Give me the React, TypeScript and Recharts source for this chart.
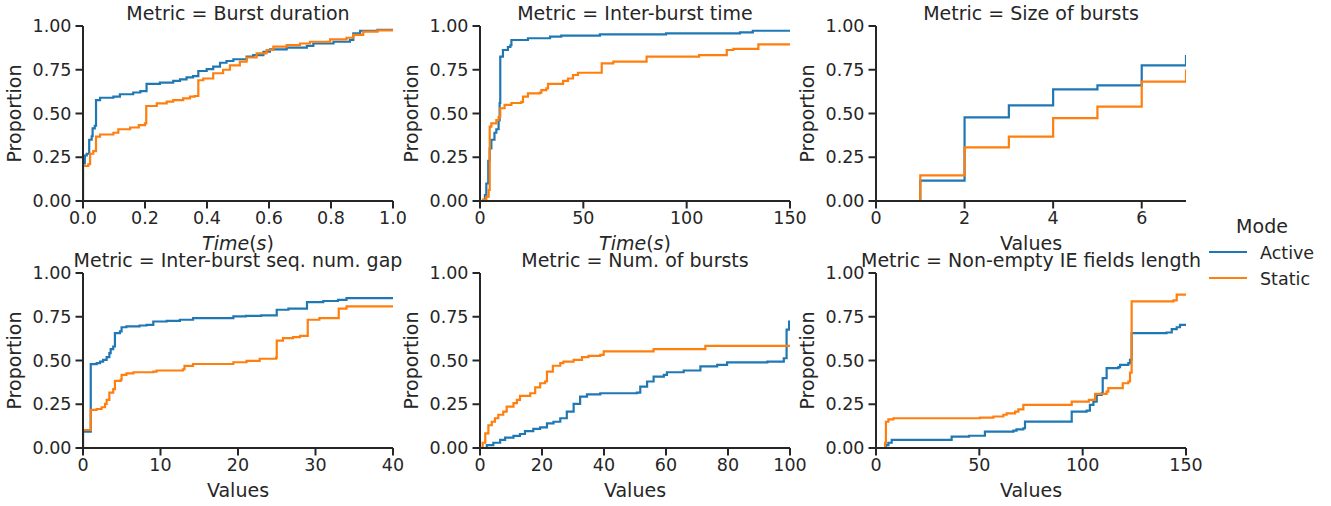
import React from 'react';
import { LineChart, Line, XAxis, YAxis } from 'recharts';

const BLUE = '#1f77b4';
const ORANGE = '#ff7f0e';
const INK = '#262626';
const FONT = 'DejaVu Sans, sans-serif';

type Pt = [number, number];

// Mode categories
const modes = ['Active', 'Static'];

// Metric = Burst duration (x in seconds)
const burstDurationActive: Pt[] = [
  [0, 0], [0, 0.215], [0.006, 0.26], [0.012, 0.27], [0.02, 0.35], [0.028, 0.37], [0.031, 0.415], [0.038, 0.43],
  [0.042, 0.577], [0.055, 0.59], [0.098, 0.596], [0.119, 0.61], [0.162, 0.62], [0.185, 0.628], [0.205, 0.669],
  [0.248, 0.676], [0.291, 0.686], [0.313, 0.695], [0.334, 0.707], [0.355, 0.714], [0.372, 0.743], [0.399, 0.754],
  [0.42, 0.768], [0.442, 0.79], [0.463, 0.8], [0.485, 0.81], [0.528, 0.825], [0.549, 0.834], [0.582, 0.853],
  [0.603, 0.867], [0.657, 0.876], [0.722, 0.886], [0.743, 0.9], [0.808, 0.91], [0.861, 0.92], [0.872, 0.958],
  [0.894, 0.973], [0.95, 0.978], [1.0, 0.98],
];
const burstDurationStatic: Pt[] = [
  [0, 0], [0, 0.2], [0.017, 0.21], [0.023, 0.27], [0.033, 0.285], [0.042, 0.368], [0.055, 0.38], [0.098, 0.39],
  [0.114, 0.41], [0.152, 0.42], [0.18, 0.434], [0.2, 0.444], [0.204, 0.543], [0.238, 0.558], [0.27, 0.568],
  [0.291, 0.577], [0.323, 0.587], [0.345, 0.596], [0.36, 0.6], [0.372, 0.69], [0.388, 0.7], [0.42, 0.73],
  [0.452, 0.75], [0.474, 0.775], [0.506, 0.796], [0.528, 0.82], [0.56, 0.844], [0.592, 0.863], [0.614, 0.882],
  [0.657, 0.891], [0.7, 0.9], [0.732, 0.91], [0.797, 0.924], [0.85, 0.933], [0.872, 0.949], [0.904, 0.968],
  [0.95, 0.975], [1.0, 0.98],
];

// Metric = Inter-burst time (x in seconds)
const interBurstTimeActive: Pt[] = [
  [0, 0], [1.45, 0.006], [2.4, 0.034], [3.06, 0.1], [4.0, 0.23], [4.7, 0.3], [5.5, 0.35], [7.0, 0.39], [7.9, 0.41],
  [9.0, 0.46], [9.5, 0.56], [9.8, 0.825], [11.1, 0.863], [13.5, 0.88], [14.7, 0.89], [15.2, 0.92], [23.2, 0.93],
  [33.9, 0.939], [39.3, 0.945], [58, 0.952], [90, 0.958], [125.8, 0.964], [132, 0.973], [150, 0.973],
];
const interBurstTimeStatic: Pt[] = [
  [0, 0], [1.5, 0.006], [3.06, 0.025], [4.2, 0.063], [4.7, 0.425], [5.5, 0.444], [7.9, 0.463], [9.0, 0.48],
  [9.8, 0.53], [11.9, 0.549], [15.2, 0.56], [20, 0.567], [20.8, 0.596], [23.2, 0.615], [28.9, 0.619], [29.7, 0.634],
  [32.1, 0.644], [32.9, 0.669], [40.2, 0.687], [42.6, 0.7], [45, 0.72], [47.4, 0.733], [58.9, 0.787], [64.5, 0.796],
  [80.6, 0.825], [106, 0.834], [119.4, 0.863], [122.6, 0.869], [134.7, 0.895], [150, 0.9],
];

// Metric = Size of bursts
const sizeOfBurstsActive: Pt[] = [
  [1, 0], [1, 0.116], [2, 0.478], [3, 0.547], [4, 0.638], [5, 0.661], [6, 0.775], [7, 0.834],
];
const sizeOfBurstsStatic: Pt[] = [
  [1, 0], [1, 0.147], [2, 0.307], [3, 0.368], [4, 0.474], [5, 0.539], [6, 0.682], [7, 0.752],
];

// Metric = Inter-burst seq. num. gap
const seqGapActive: Pt[] = [
  [0, 0], [0, 0.094], [1, 0.479], [1.76, 0.485], [2.2, 0.494], [2.6, 0.504], [3.05, 0.519], [3.4, 0.542],
  [3.57, 0.565], [3.9, 0.58], [4.12, 0.656], [4.77, 0.666], [4.98, 0.69], [5.6, 0.695], [7.3, 0.7], [8.2, 0.704],
  [9.07, 0.723], [10.8, 0.727], [12.5, 0.733], [14.2, 0.742], [19.4, 0.752], [21, 0.755], [23, 0.758], [25, 0.79],
  [26.5, 0.797], [28.9, 0.834], [31, 0.84], [32.9, 0.847], [34, 0.857], [40, 0.857],
];
const seqGapStatic: Pt[] = [
  [0, 0], [0, 0.103], [1, 0.218], [1.76, 0.223], [2.4, 0.233], [2.84, 0.252], [3.05, 0.275], [3.4, 0.317],
  [3.9, 0.336], [4.12, 0.384], [4.86, 0.39], [4.98, 0.418], [5.6, 0.427], [6.5, 0.433], [9.07, 0.437], [9.5, 0.443],
  [12.9, 0.45], [13.1, 0.469], [14.2, 0.48], [19.4, 0.49], [21.1, 0.498], [22.8, 0.51], [24.9, 0.517], [25, 0.614],
  [25.8, 0.628], [27.1, 0.634], [28, 0.641], [29, 0.733], [30.5, 0.742], [33, 0.796], [34, 0.809], [40, 0.815],
];

// Metric = Num. of bursts
const numBurstsActive: Pt[] = [
  [0, 0], [2.2, 0.017], [4.3, 0.03], [6.5, 0.046], [8.1, 0.059], [10.8, 0.069], [12.9, 0.08], [14.5, 0.097],
  [17.2, 0.109], [19.4, 0.118], [21.6, 0.141], [23.7, 0.15], [25.9, 0.17], [28, 0.208], [30.2, 0.252], [32.3, 0.294],
  [34.5, 0.307], [38.8, 0.313], [50.6, 0.317], [51.7, 0.351], [53.9, 0.38], [56, 0.408], [59.3, 0.418],
  [60.3, 0.433], [65.7, 0.443], [71.1, 0.466], [76.5, 0.475], [79.7, 0.489], [92.7, 0.494], [98, 0.513],
  [98.9, 0.676], [99.7, 0.723], [100, 0.723],
];
const numBurstsStatic: Pt[] = [
  [0.2, 0], [0.86, 0.03], [1.7, 0.084], [2.7, 0.13], [3.8, 0.15], [4.8, 0.17], [5.9, 0.19], [7.5, 0.208],
  [8.6, 0.237], [10.8, 0.256], [11.9, 0.275], [12.9, 0.298], [16.2, 0.313], [17.8, 0.347], [19.4, 0.37], [21, 0.38],
  [21.6, 0.437], [23.5, 0.47], [25.9, 0.485], [26.9, 0.494], [30.2, 0.504], [32.9, 0.519], [35, 0.527],
  [38.8, 0.532], [39.9, 0.552], [56, 0.565], [72.7, 0.584], [100, 0.584],
];

// Metric = Non-empty IE fields length
const ieLengthActive: Pt[] = [
  [4.4, 0], [4.8, 0.017], [6, 0.03], [7.6, 0.046], [36.6, 0.065], [45, 0.07], [52.7, 0.094], [66.5, 0.099],
  [68, 0.107], [71.3, 0.113], [72.1, 0.151], [94.7, 0.208], [101.9, 0.214], [103.5, 0.246], [105.2, 0.265],
  [106.8, 0.303], [109.2, 0.313], [109.7, 0.399], [111.6, 0.456], [117.3, 0.462], [118.1, 0.475], [122.1, 0.485],
  [122.9, 0.504], [123.7, 0.656], [140.6, 0.66], [143.1, 0.679], [145.5, 0.69], [147.1, 0.704], [150, 0.704],
];
const ieLengthStatic: Pt[] = [
  [4.4, 0], [4.4, 0.03], [4.8, 0.15], [6, 0.164], [8.4, 0.17], [47, 0.17], [50.3, 0.174], [56.8, 0.18],
  [61.6, 0.19], [63.2, 0.198], [67.3, 0.208], [68.9, 0.221], [71.3, 0.246], [94.7, 0.265], [103, 0.275],
  [106, 0.309], [111.6, 0.322], [112.4, 0.342], [119.4, 0.37], [122.1, 0.38], [122.9, 0.431], [123.7, 0.838],
  [143.9, 0.844], [145.5, 0.876], [150, 0.876],
];

// Axis ticks
const proportionTicks = [0, 0.25, 0.5, 0.75, 1];
const ticksBurstDuration = [0, 0.2, 0.4, 0.6, 0.8, 1.0];
const ticksInterBurstTime = [0, 50, 100, 150];
const ticksSize = [0, 2, 4, 6];
const ticksSeqGap = [0, 10, 20, 30, 40];
const ticksNumBursts = [0, 20, 40, 60, 80, 100];
const ticksIeLength = [0, 50, 100, 150];

const toData = (pts: Pt[]) => pts.map(([x, y]) => ({ x, y }));

const PLOT_W = 310;
const PLOT_H = 175;
const Y_W = 83;
const M_TOP = 26;
const X_H = 45;
const M_BOTTOM = 12;
const M_RIGHT = 18;

interface PanelProps {
  left: number;
  top: number;
  title: string;
  xLabel: string;
  math?: boolean;
  xMax: number;
  ticks: number[];
  fmt: (v: number) => string;
  active: Pt[];
  stat: Pt[];
}

function Panel({ left, top, title, xLabel, math, xMax, ticks, fmt, active, stat }: PanelProps) {
  const W = Y_W + PLOT_W + M_RIGHT;
  const H = M_TOP + PLOT_H + X_H + M_BOTTOM;
  const tickStyle = { fill: INK, fontSize: 17.5, fontFamily: FONT };
  return (
    <div style={{ position: 'absolute', left: left - Y_W, top: top - M_TOP }}>
      <LineChart width={W} height={H} margin={{ top: M_TOP, right: M_RIGHT, bottom: M_BOTTOM, left: 0 }}>
        <XAxis
          type="number"
          dataKey="x"
          domain={[0, xMax]}
          ticks={ticks}
          interval={0}
          allowDataOverflow
          height={X_H}
          tickSize={7.5}
          tickMargin={3}
          stroke={INK}
          strokeWidth={2}
          tick={tickStyle}
          tickFormatter={fmt}
          label={{
            content: (p: any) => {
              const vb = p.viewBox || {};
              const cx = vb.x + vb.width / 2;
              const cy = vb.y + 48.5;
              if (math) {
                return (
                  <text x={cx} y={cy} textAnchor="middle" fill={INK} fontSize={19} fontFamily={FONT}>
                    <tspan fontStyle="italic">Time</tspan>
                    <tspan>(</tspan>
                    <tspan fontStyle="italic">s</tspan>
                    <tspan>)</tspan>
                  </text>
                );
              }
              return (
                <text x={cx} y={cy} textAnchor="middle" fill={INK} fontSize={19} fontFamily={FONT}>
                  {xLabel}
                </text>
              );
            },
          }}
        />
        <YAxis
          type="number"
          domain={[0, 1]}
          ticks={proportionTicks}
          interval={0}
          width={Y_W}
          tickSize={7.5}
          tickMargin={4}
          stroke={INK}
          strokeWidth={2}
          tick={tickStyle}
          tickFormatter={(v: number) => v.toFixed(2)}
          label={{
            content: (p: any) => {
              const vb = p.viewBox || {};
              const cx = vb.x + 21;
              const cy = vb.y + vb.height / 2;
              return (
                <text
                  x={cx}
                  y={cy}
                  textAnchor="middle"
                  transform={`rotate(-90, ${cx}, ${cy})`}
                  fill={INK}
                  fontSize={19}
                  fontFamily={FONT}
                >
                  Proportion
                </text>
              );
            },
          }}
        />
        <Line
          name={modes[0]}
          data={toData(active)}
          dataKey="y"
          type="stepAfter"
          stroke={BLUE}
          strokeWidth={2.2}
          dot={false}
          activeDot={false}
          isAnimationActive={false}
        />
        <Line
          name={modes[1]}
          data={toData(stat)}
          dataKey="y"
          type="stepAfter"
          stroke={ORANGE}
          strokeWidth={2.2}
          dot={false}
          activeDot={false}
          isAnimationActive={false}
        />
        <text
          x={Y_W + PLOT_W / 2}
          y={M_TOP - 6.5}
          textAnchor="middle"
          fill={INK}
          fontSize={19}
          fontFamily={FONT}
        >
          {title}
        </text>
      </LineChart>
    </div>
  );
}

const f1 = (v: number) => v.toFixed(1);
const f0 = (v: number) => String(v);

export default function App() {
  return (
    <div
      style={{
        position: 'absolute',
        left: 0,
        top: 0,
        width: 1331,
        height: 506,
        background: '#ffffff',
        overflow: 'hidden',
        fontFamily: FONT,
      }}
    >
      <Panel left={83} top={26} title="Metric = Burst duration" xLabel="Time(s)" math xMax={1} ticks={ticksBurstDuration} fmt={f1} active={burstDurationActive} stat={burstDurationStatic} />
      <Panel left={480} top={26} title="Metric = Inter-burst time" xLabel="Time(s)" math xMax={150} ticks={ticksInterBurstTime} fmt={f0} active={interBurstTimeActive} stat={interBurstTimeStatic} />
      <Panel left={876} top={26} title="Metric = Size of bursts" xLabel="Values" xMax={7} ticks={ticksSize} fmt={f0} active={sizeOfBurstsActive} stat={sizeOfBurstsStatic} />
      <Panel left={83} top={273} title="Metric = Inter-burst seq. num. gap" xLabel="Values" xMax={40} ticks={ticksSeqGap} fmt={f0} active={seqGapActive} stat={seqGapStatic} />
      <Panel left={480} top={273} title="Metric = Num. of bursts" xLabel="Values" xMax={100} ticks={ticksNumBursts} fmt={f0} active={numBurstsActive} stat={numBurstsStatic} />
      <Panel left={876} top={273} title="Metric = Non-empty IE fields length" xLabel="Values" xMax={150} ticks={ticksIeLength} fmt={f0} active={ieLengthActive} stat={ieLengthStatic} />
      <svg width={141} height={100} style={{ position: 'absolute', left: 1190, top: 200 }}>
        <text x={72} y={33} textAnchor="middle" fill={INK} fontSize={19} fontFamily={FONT}>Mode</text>
        <line x1={19} x2={57} y1={52} y2={52} stroke={BLUE} strokeWidth={2.2} />
        <text x={70} y={58.5} fill={INK} fontSize={17.5} fontFamily={FONT}>{modes[0]}</text>
        <line x1={19} x2={57} y1={78} y2={78} stroke={ORANGE} strokeWidth={2.2} />
        <text x={70} y={84.5} fill={INK} fontSize={17.5} fontFamily={FONT}>{modes[1]}</text>
      </svg>
    </div>
  );
}
